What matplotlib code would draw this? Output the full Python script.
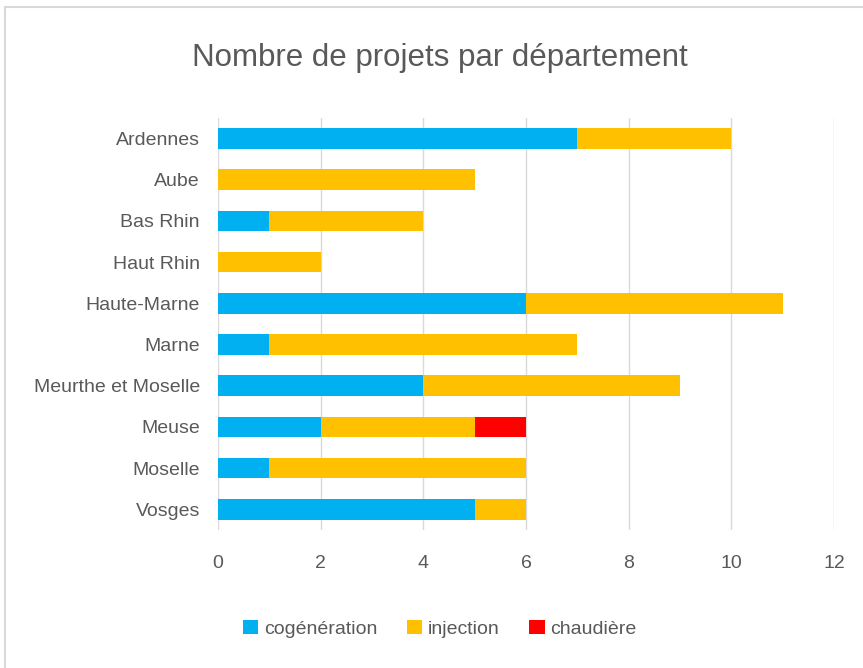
import matplotlib
matplotlib.use("Agg")
import matplotlib.pyplot as plt
from matplotlib.patches import Rectangle
import numpy as np

plt.rcParams['font.family'] = ['Liberation Sans', 'DejaVu Sans']

departements = ["Ardennes", "Aube", "Bas Rhin", "Haut Rhin", "Haute-Marne", "Marne",
                "Meurthe et Moselle", "Meuse", "Moselle", "Vosges"]
cogeneration = [7, 0, 1, 0, 6, 1, 4, 2, 1, 5]
injection = [3, 5, 3, 2, 5, 6, 5, 3, 5, 1]
chaudiere = [0, 0, 0, 0, 0, 0, 0, 1, 0, 0]
xticks = [0, 2, 4, 6, 8, 10, 12]

grey = "#595959"

fig = plt.figure(figsize=(8.63, 6.68), dpi=100)
ax = fig.add_axes([0.2526, 0.2066, 0.7138, 0.6168])

y = np.arange(len(departements))
cog = np.array(cogeneration)
inj = np.array(injection)
chd = np.array(chaudiere)
ax.barh(y, cog, height=0.5, color="#00b0f0", label="cogénération", zorder=3)
ax.barh(y, inj, left=cog, height=0.5, color="#ffc000", label="injection", zorder=3)
ax.barh(y, chd, left=cog + inj, height=0.5, color="#ff0000", label="chaudière", zorder=3)

ax.set_ylim(len(departements) - 0.5, -0.5)
ax.set_xlim(0, 12)
ax.set_yticks(y)
ax.set_yticklabels(departements, fontsize=14, color=grey)
ax.set_xticks(xticks)
ax.set_xticklabels([str(t) for t in xticks], fontsize=14, color=grey)
ax.tick_params(axis='y', length=0, pad=13)
ax.tick_params(axis='x', length=0, pad=18)
for s in ax.spines.values():
    s.set_visible(False)
ax.grid(axis='x', color="#d9d9d9", linewidth=1, zorder=0)

fig.suptitle("Nombre de projets par département", x=0.51, y=0.935, fontsize=22.5, color=grey)

leg = ax.legend(loc='upper center', bbox_to_anchor=(0.36, -0.175), ncol=3, frameon=False,
                fontsize=14, handlelength=0.8, handleheight=0.8, handletextpad=0.3,
                columnspacing=1.5)
for t in leg.get_texts():
    t.set_color(grey)

fig.patches.append(Rectangle((0.006, -0.01), 1.0, 1.0, transform=fig.transFigure,
                             fill=False, edgecolor="#d9d9d9", linewidth=1.5))

fig.savefig("out.png", dpi=100)
